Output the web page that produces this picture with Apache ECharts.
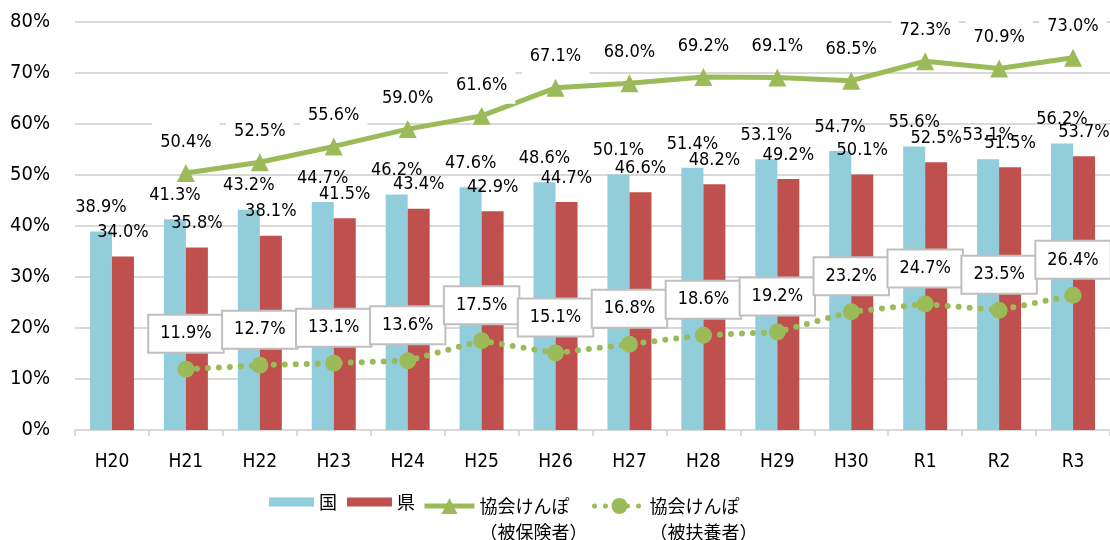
<!DOCTYPE html>
<html><head><meta charset="utf-8">
<script src="https://cdn.jsdelivr.net/npm/echarts@6/dist/echarts.min.js"></script>
<style>html,body{margin:0;padding:0;background:#fff}#c{width:1110px;height:540px}</style>
</head><body><div id="c"></div>
<script>
const categories = ['H20','H21','H22','H23','H24','H25','H26','H27','H28','H29','H30','R1','R2','R3'];
const kuni = [38.9,41.3,43.2,44.7,46.2,47.6,48.6,50.1,51.4,53.1,54.7,55.6,53.1,56.2];
const ken = [34.0,35.8,38.1,41.5,43.4,42.9,44.7,46.6,48.2,49.2,50.1,52.5,51.5,53.7];
const hihokensha = [null,50.4,52.5,55.6,59.0,61.6,67.1,68.0,69.2,69.1,68.5,72.3,70.9,73.0];
const hifuyousha = [null,11.9,12.7,13.1,13.6,17.5,15.1,16.8,18.6,19.2,23.2,24.7,23.5,26.4];
const yTicks = [0,10,20,30,40,50,60,70,80];

const NUM = "'DejaVu Sans Condensed','Noto Sans CJK JP',sans-serif";
const JP = "'Noto Sans CJK JP',sans-serif";
const pct = p => p.value.toFixed(1) + '%';
const names = ['国','県','協会けんぽ（被保険者）','協会けんぽ（被扶養者）'];
const twoLine = n => ' \n' + n.replace('（', '\n（');

const chart = echarts.init(document.getElementById('c'));
chart.setOption({
  animation: false,
  backgroundColor: '#fff',
  grid: {left: 75, right: -2, top: 22, bottom: 110},
  xAxis: {
    type: 'category', data: categories,
    axisLine: {lineStyle: {color: '#D9D9D9', width: 2}},
    axisTick: {show: true, length: 6, lineStyle: {color: '#D9D9D9', width: 2}},
    axisLabel: {color: '#000', fontFamily: NUM, fontSize: 19, margin: 23}
  },
  yAxis: {
    type: 'value', min: yTicks[0], max: yTicks[yTicks.length-1], interval: 10,
    axisLine: {show: false}, axisTick: {show: false},
    axisLabel: {color: '#000', fontFamily: NUM, fontSize: 20, margin: 25, formatter: '{value}%'},
    splitLine: {lineStyle: {color: '#D9D9D9', width: 2}}
  },
  legend: [
    {data: [names[0], names[1]], left: 264, top: 487, itemWidth: 45, itemHeight: 9, itemGap: 10,
     icon: 'rect', textStyle: {fontFamily: JP, fontSize: 18, color: '#000', lineHeight: 20}},
    {data: [names[2]], left: 417, top: 462, itemWidth: 50, itemHeight: 20,
     formatter: twoLine, lineStyle: {width: 5},
     textStyle: {fontFamily: JP, fontSize: 18, color: '#000', lineHeight: 26}},
    {data: [names[3]], left: 587, top: 462, itemWidth: 50, itemHeight: 20,
     formatter: twoLine, lineStyle: {width: 5},
     textStyle: {fontFamily: JP, fontSize: 18, color: '#000', lineHeight: 26}}
  ],
  series: [
    {name: names[0], type: 'bar', data: kuni, barWidth: 22, barGap: '0%',
     itemStyle: {color: '#92CDDC'},
     label: {show: true, position: 'top', distance: 15, formatter: pct, fontFamily: NUM, fontSize: 18, color: '#000'}},
    {name: names[1], type: 'bar', data: ken, barWidth: 22,
     itemStyle: {color: '#C0504D'},
     label: {show: true, position: 'top', distance: 15, formatter: pct, fontFamily: NUM, fontSize: 18, color: '#000'}},
    {name: names[2], type: 'line', data: hihokensha, symbol: 'triangle', symbolSize: 18,
     lineStyle: {color: '#9BBB59', width: 5}, itemStyle: {color: '#9BBB59'}, z: 5,
     label: {show: true, position: 'top', distance: 3, formatter: pct, fontFamily: NUM, fontSize: 18, color: '#000',
             backgroundColor: '#fff', padding: [10, 8]}},
    {name: names[3], type: 'line', data: hifuyousha, symbol: 'circle', symbolSize: 17,
     lineStyle: {color: '#9BBB59', width: 6, type: [0, 11], cap: 'round'}, itemStyle: {color: '#9BBB59'}, z: 5,
     label: {show: true, position: 'top', distance: 9, formatter: pct, fontFamily: NUM, fontSize: 18, color: '#000',
             backgroundColor: '#fff', borderColor: '#BFBFBF', borderWidth: 2, padding: [9, 11]}}
  ]
});
</script></body></html>
